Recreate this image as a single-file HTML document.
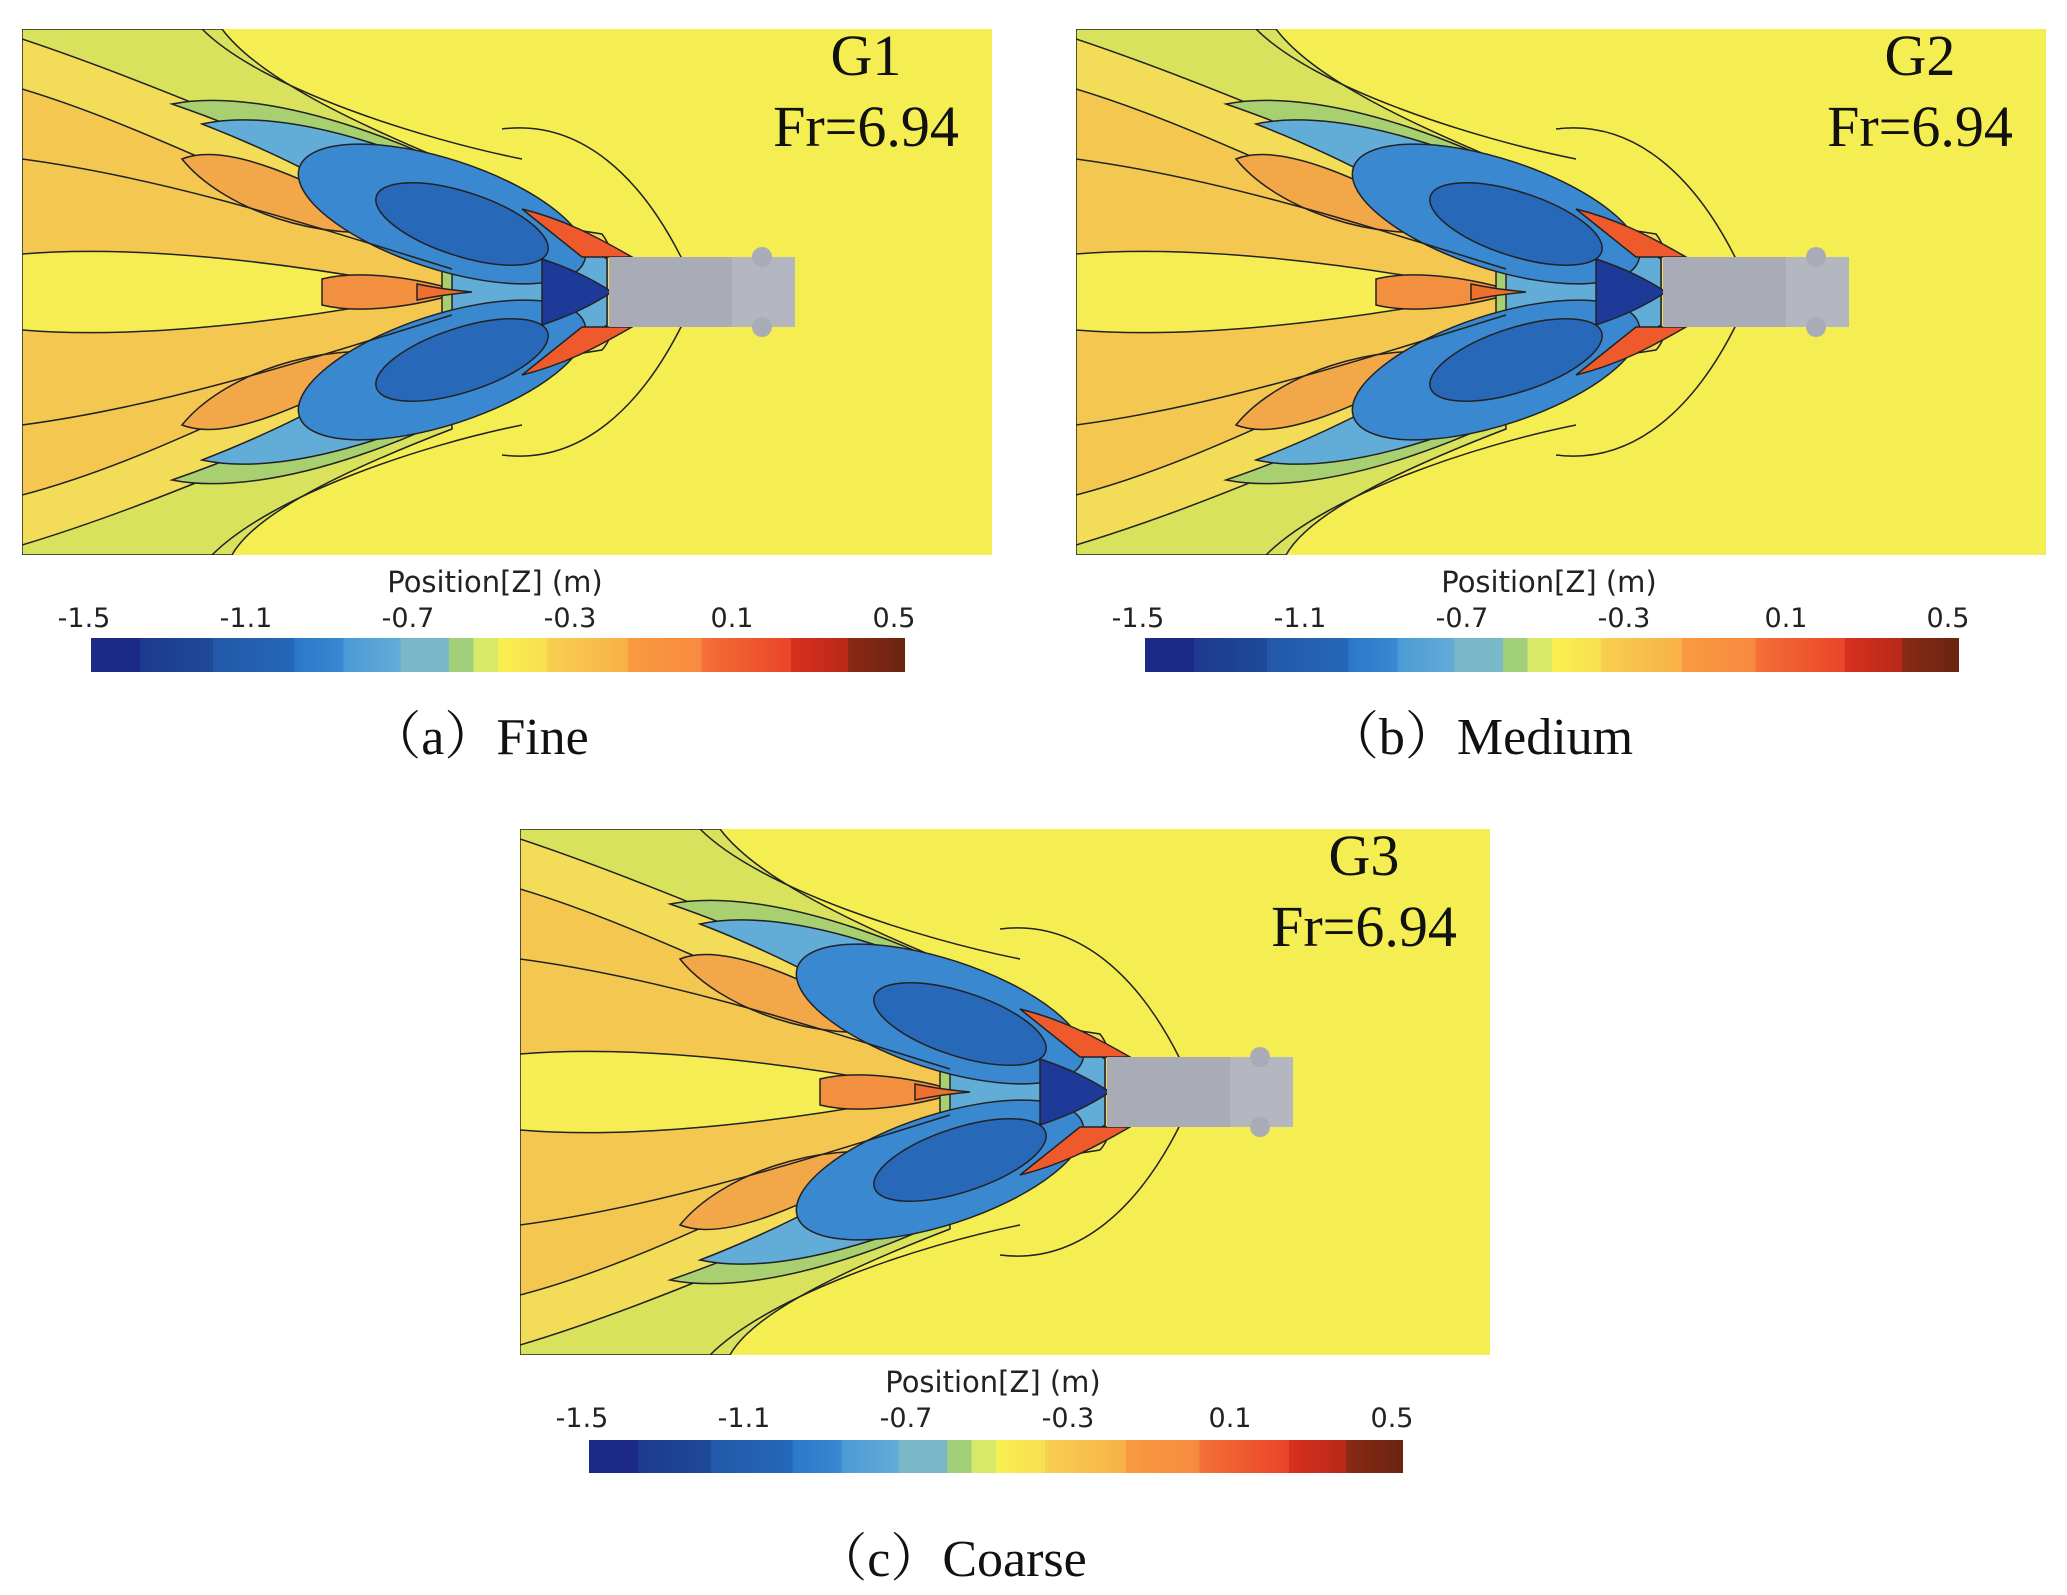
<!DOCTYPE html>
<html><head><meta charset="utf-8"><style>
html,body{margin:0;padding:0;background:#fff;}
svg{display:block;}
.tk{font-family:"DejaVu Sans","Liberation Sans",sans-serif;font-size:27px;fill:#222;}
.pl{font-family:"DejaVu Sans","Liberation Sans",sans-serif;font-size:29px;fill:#222;}
.cap{font-family:"Liberation Serif","Noto Serif CJK SC",serif;font-size:52px;fill:#111;}
.gl{font-family:"Liberation Serif",serif;font-size:58px;fill:#111;}
</style></head><body>
<svg width="2067" height="1595" viewBox="0 0 2067 1595" xmlns="http://www.w3.org/2000/svg">
<defs>
<linearGradient id="cb" x1="0" x2="1" y1="0" y2="0">
<stop offset="0" stop-color="#1b2a86"/><stop offset="0.06" stop-color="#1b2a86"/>
<stop offset="0.06" stop-color="#1e3a8e"/><stop offset="0.15" stop-color="#1e4a98"/>
<stop offset="0.15" stop-color="#2358a8"/><stop offset="0.25" stop-color="#2468b8"/>
<stop offset="0.25" stop-color="#2a78c8"/><stop offset="0.31" stop-color="#3a88d0"/>
<stop offset="0.31" stop-color="#4c9ad6"/><stop offset="0.38" stop-color="#62acd8"/>
<stop offset="0.38" stop-color="#7ab8c8"/><stop offset="0.44" stop-color="#7ab8c8"/>
<stop offset="0.44" stop-color="#a2d07a"/><stop offset="0.47" stop-color="#a2d07a"/>
<stop offset="0.47" stop-color="#d8e868"/><stop offset="0.5" stop-color="#d8e868"/>
<stop offset="0.5" stop-color="#f8f050"/><stop offset="0.56" stop-color="#f8e050"/>
<stop offset="0.56" stop-color="#f8d050"/><stop offset="0.66" stop-color="#f8b048"/>
<stop offset="0.66" stop-color="#f89a40"/><stop offset="0.75" stop-color="#f88a40"/>
<stop offset="0.75" stop-color="#f47038"/><stop offset="0.86" stop-color="#ea4428"/>
<stop offset="0.86" stop-color="#d83020"/><stop offset="0.93" stop-color="#b82818"/>
<stop offset="0.93" stop-color="#8a2a14"/><stop offset="1" stop-color="#6a2410"/>
</linearGradient>
<clipPath id="pc"><rect x="0" y="0" width="970" height="526"/></clipPath>
<g id="plot">
<g clip-path="url(#pc)" stroke="#222" stroke-width="1.5">
<rect x="0" y="0" width="970" height="526" fill="#f4ee52" stroke="none"/>
<path d="M0 0 L200 0 C230 40 300 80 420 130 L430 400 C300 450 230 490 210 526 L0 526 Z" fill="#d8e25c"/>
<path d="M0 10 C120 50 260 110 420 180 L580 205 C600 230 600 300 580 321 L420 346 C260 420 120 480 0 516 Z" fill="#f2dc58"/>
<path d="M0 60 C100 90 200 140 320 190 L430 215 L430 311 L320 336 C200 390 100 440 0 466 Z" fill="#f4c850"/>
<path d="M0 225 C120 215 280 235 420 263 C280 291 120 311 0 301 Z" fill="#f6ec54"/>
<path d="M160 130 C210 110 300 160 380 200 C300 215 200 180 160 130 Z" fill="#f2a848"/>
<path d="M160 396 C210 416 300 366 380 326 C300 311 200 346 160 396 Z" fill="#f2a848"/>
<path d="M300 250 C340 240 400 250 440 263 C400 276 340 286 300 276 Z" fill="#f29040"/>
<path d="M150 75 C250 55 420 120 530 195 L585 228 L585 298 L530 331 C420 406 250 471 150 451 C240 420 330 380 420 300 L420 226 C330 146 240 106 150 75 Z" fill="#a8d070" />
<path d="M180 95 C270 75 420 130 540 200 L585 230 L585 296 L540 326 C420 396 270 451 180 431 C260 400 340 360 430 295 L430 231 C340 166 260 126 180 95 Z" fill="#62acd8"/>
<ellipse cx="420" cy="185" rx="150" ry="55" transform="rotate(18 420 185)" fill="#3a88d0"/>
<ellipse cx="420" cy="341" rx="150" ry="55" transform="rotate(-18 420 341)" fill="#3a88d0"/>
<ellipse cx="440" cy="195" rx="90" ry="32" transform="rotate(18 440 195)" fill="#2868b8"/>
<ellipse cx="440" cy="331" rx="90" ry="32" transform="rotate(-18 440 331)" fill="#2868b8"/>
<path d="M520 230 C550 240 570 250 590 263 C570 276 550 286 520 296 Z" fill="#1e3a98"/>
<path d="M500 180 C540 190 570 205 610 228 L560 228 Z" fill="#ee5a2c"/>
<path d="M500 346 C540 336 570 321 610 298 L560 298 Z" fill="#ee5a2c"/>
<path d="M395 255 C410 258 420 260 450 263 C420 266 410 268 395 271 Z" fill="#ee7030"/>
<path d="M480 100 C560 90 620 150 660 230 L660 296 C620 376 560 436 480 426" fill="none"/>
<path d="M180 0 C240 60 400 110 500 130" fill="none"/>
<path d="M190 526 C250 466 400 416 500 396" fill="none"/>
<path d="M0 130 C150 150 300 200 430 240 M0 396 C150 376 300 326 430 286" fill="none"/>
</g>
<rect x="587" y="228" width="186" height="70" fill="#a9acb6"/>
<rect x="710" y="228" width="63" height="70" fill="#b4b7c0"/>
<circle cx="740" cy="228" r="10" fill="#a9acb6"/>
<circle cx="740" cy="298" r="10" fill="#a9acb6"/>
</g>
</defs>

<use href="#plot" x="22" y="29"/>
<text class="gl" x="866" y="75" text-anchor="middle">G1</text>
<text class="gl" x="866" y="146" text-anchor="middle">Fr=6.94</text>
<text class="pl" x="495" y="592" text-anchor="middle">Position[Z] (m)</text>
<g class="tk" text-anchor="middle"><text x="84" y="627">-1.5</text><text x="246" y="627">-1.1</text><text x="408" y="627">-0.7</text><text x="570" y="627">-0.3</text><text x="732" y="627">0.1</text><text x="894" y="627">0.5</text></g>
<rect x="91" y="638" width="814" height="34" fill="url(#cb)"/>
<text class="cap" x="479" y="754" text-anchor="middle">（a）Fine</text>

<use href="#plot" x="1076" y="29"/>
<text class="gl" x="1920" y="75" text-anchor="middle">G2</text>
<text class="gl" x="1920" y="146" text-anchor="middle">Fr=6.94</text>
<text class="pl" x="1549" y="592" text-anchor="middle">Position[Z] (m)</text>
<g class="tk" text-anchor="middle"><text x="1138" y="627">-1.5</text><text x="1300" y="627">-1.1</text><text x="1462" y="627">-0.7</text><text x="1624" y="627">-0.3</text><text x="1786" y="627">0.1</text><text x="1948" y="627">0.5</text></g>
<rect x="1145" y="638" width="814" height="34" fill="url(#cb)"/>
<text class="cap" x="1480" y="754" text-anchor="middle">（b）Medium</text>

<use href="#plot" x="520" y="829"/>
<text class="gl" x="1364" y="875" text-anchor="middle">G3</text>
<text class="gl" x="1364" y="946" text-anchor="middle">Fr=6.94</text>
<text class="pl" x="993" y="1392" text-anchor="middle">Position[Z] (m)</text>
<g class="tk" text-anchor="middle"><text x="582" y="1427">-1.5</text><text x="744" y="1427">-1.1</text><text x="906" y="1427">-0.7</text><text x="1068" y="1427">-0.3</text><text x="1230" y="1427">0.1</text><text x="1392" y="1427">0.5</text></g>
<rect x="589" y="1440" width="814" height="33" fill="url(#cb)"/>
<text class="cap" x="951" y="1576" text-anchor="middle">（c）Coarse</text>
</svg>
</body></html>
